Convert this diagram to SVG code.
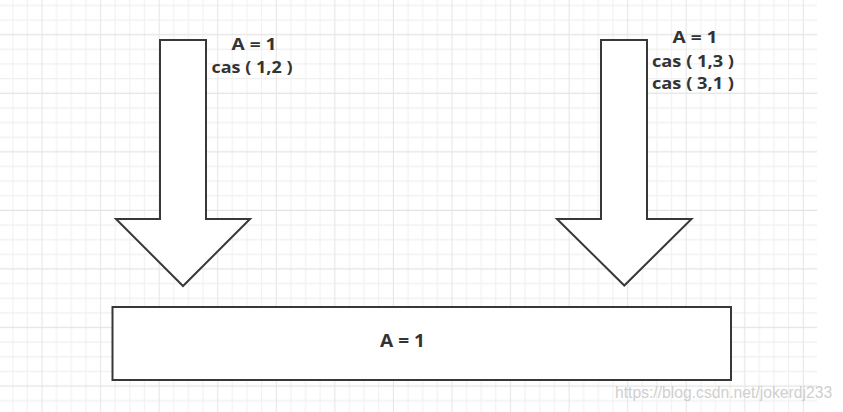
<svg xmlns="http://www.w3.org/2000/svg" width="843" height="412" viewBox="0 0 843 412">
  <defs>
    <pattern id="grid" patternUnits="userSpaceOnUse" x="34.68" y="27.38" width="58.56" height="58.56">
      <path d="M21.96 0V58.56M36.6 0V58.56M51.24 0V58.56M0 21.96H58.56M0 36.6H58.56M0 51.24H58.56" stroke="#f0f0f0" stroke-width="1" fill="none"/>
      <path d="M7.32 0V58.56M0 7.32H58.56" stroke="#e4e4e4" stroke-width="1" fill="none"/>
    </pattern>
    <style>
      .shape { fill: #ffffff; stroke: #383838; stroke-width: 2; stroke-linejoin: miter; }
      .lbl { font-family: "Open Sans", "Noto Sans", sans-serif; font-weight: bold; fill: #333333; text-anchor: middle; }
      .wm { font-family: "Liberation Sans", Arial, sans-serif; font-size: 15.7px; fill: #cfcfcf; }
    </style>
  </defs>
  <rect x="0" y="0" width="843" height="412" fill="#ffffff"/>
  <rect x="0" y="0" width="817" height="412" fill="url(#grid)"/>

  <g id="arrow-left">
    <polygon class="shape" points="160,40 206,40 206,219 250,219 183,286 116,219 160,219"/>
    <text class="lbl" x="254" y="50" font-size="15.5" textLength="45" lengthAdjust="spacingAndGlyphs">A = 1</text>
    <text class="lbl" x="252" y="72.7" font-size="15.5" textLength="81" lengthAdjust="spacingAndGlyphs">cas ( 1,2 )</text>
  </g>

  <g id="arrow-right">
    <polygon class="shape" points="601,40 647,40 647,219 691.5,219 624.3,285.5 557,219 601,219"/>
    <text class="lbl" x="695" y="43.3" font-size="15.5" textLength="45" lengthAdjust="spacingAndGlyphs">A = 1</text>
    <text class="lbl" x="693" y="66.7" font-size="15.5" textLength="82" lengthAdjust="spacingAndGlyphs">cas ( 1,3 )</text>
    <text class="lbl" x="693" y="89" font-size="15.5" textLength="82" lengthAdjust="spacingAndGlyphs">cas ( 3,1 )</text>
  </g>

  <g id="memory-box">
    <rect class="shape" x="112.5" y="307" width="618.5" height="73"/>
    <text class="lbl" x="402.5" y="347" font-size="17" textLength="45" lengthAdjust="spacingAndGlyphs">A = 1</text>
  </g>

  <g id="connectors"/>

  <text class="wm" x="615" y="398.3">https://blog.csdn.net/jokerdj233</text>
</svg>
